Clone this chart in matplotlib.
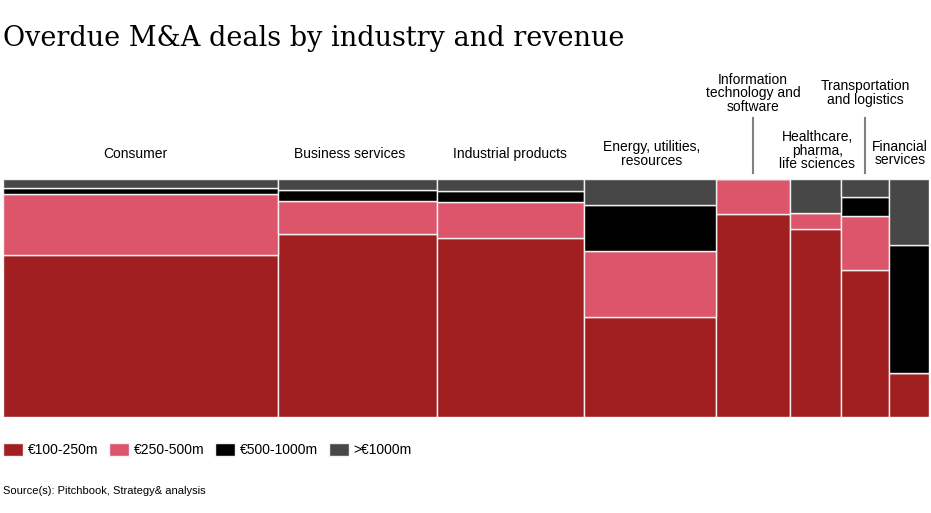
import matplotlib.pyplot as plt
import numpy as np

# column widths (share of deals, %) and stacked shares within each industry (%)
industries = ["Consumer", "Business services", "Industrial products",
              "Energy, utilities,\nresources", "Information\ntechnology and\nsoftware",
              "Healthcare,\npharma,\nlife sciences", "Transportation\nand logistics",
              "Financial\nservices"]
widths = [29.75, 17.08, 15.89, 14.27, 8.0, 5.51, 5.19, 4.31]
rev_100_250 = [68.0, 77.1, 75.2, 41.9, 85.4, 78.8, 61.7, 18.3]
rev_250_500 = [25.5, 13.6, 15.1, 27.8, 14.6, 7.0, 22.9, 0.0]
rev_500_1000 = [2.7, 4.8, 4.7, 19.4, 0.0, 0.0, 7.8, 54.1]
rev_1000 = [3.8, 4.5, 5.0, 10.9, 0.0, 14.2, 7.6, 27.6]
series_names = ["€100-250m", "€250-500m", "€500-1000m", ">€1000m"]

colors = ["#A11F20", "#DC556B", "#000000", "#474747"]

plt.rcParams['font.family'] = ['Liberation Sans', 'DejaVu Sans']

fig = plt.figure(figsize=(9.31, 5.13), dpi=100)
ax = fig.add_axes([3 / 931, 96 / 513, 926 / 931, 238 / 513])

lefts = np.concatenate([[0], np.cumsum(widths)[:-1]])
bottom = np.zeros(len(widths))
handles = []
for vals, c, name in zip([rev_100_250, rev_250_500, rev_500_1000, rev_1000], colors, series_names):
    vals = np.array(vals)
    b = ax.bar(lefts, vals, width=widths, bottom=bottom, align='edge', color=c,
               edgecolor='#f2f2f2', linewidth=1, label=name)
    handles.append(b)
    bottom += vals

ax.set_xlim(0, sum(widths))
ax.set_ylim(0, 100)
ax.axis('off')

# industry labels above the columns (small manual nudges like the original)
centers = lefts + np.array(widths) / 2
label_dx = [-0.55, -0.85, 0, 0.2, 0, 0.2, 0, -1.0]
label_y = [110.5, 110.5, 110.5, 110.5, 136.1, 111.8, 136.1, 110.7]
for x, dx, y, name in zip(centers, label_dx, label_y, industries):
    ax.text(x + dx, y, name, ha='center', va='center', fontsize=10, linespacing=0.95,
            clip_on=False)

# leader lines for the raised labels
for i in [4, 6]:
    ax.plot([centers[i], centers[i]], [102.5, 125.6], color='#808080', lw=1.5,
            clip_on=False)

fig.text(3 / 931, 1 - 38 / 513, "Overdue M&A deals by industry and revenue",
         fontsize=19.5, family='DejaVu Serif', va='center', ha='left')

fig.legend(handles=handles, loc='center left', bbox_to_anchor=(3 / 931, 1 - 450 / 513),
           ncol=4, frameon=False, fontsize=10, handlelength=1.45, handleheight=1.1,
           handletextpad=0.35, columnspacing=0.75, borderpad=0, borderaxespad=0)

fig.text(3 / 931, 1 - 491 / 513, "Source(s): Pitchbook, Strategy& analysis",
         fontsize=8, va='center', ha='left')

fig.savefig("out.png", dpi=100)
